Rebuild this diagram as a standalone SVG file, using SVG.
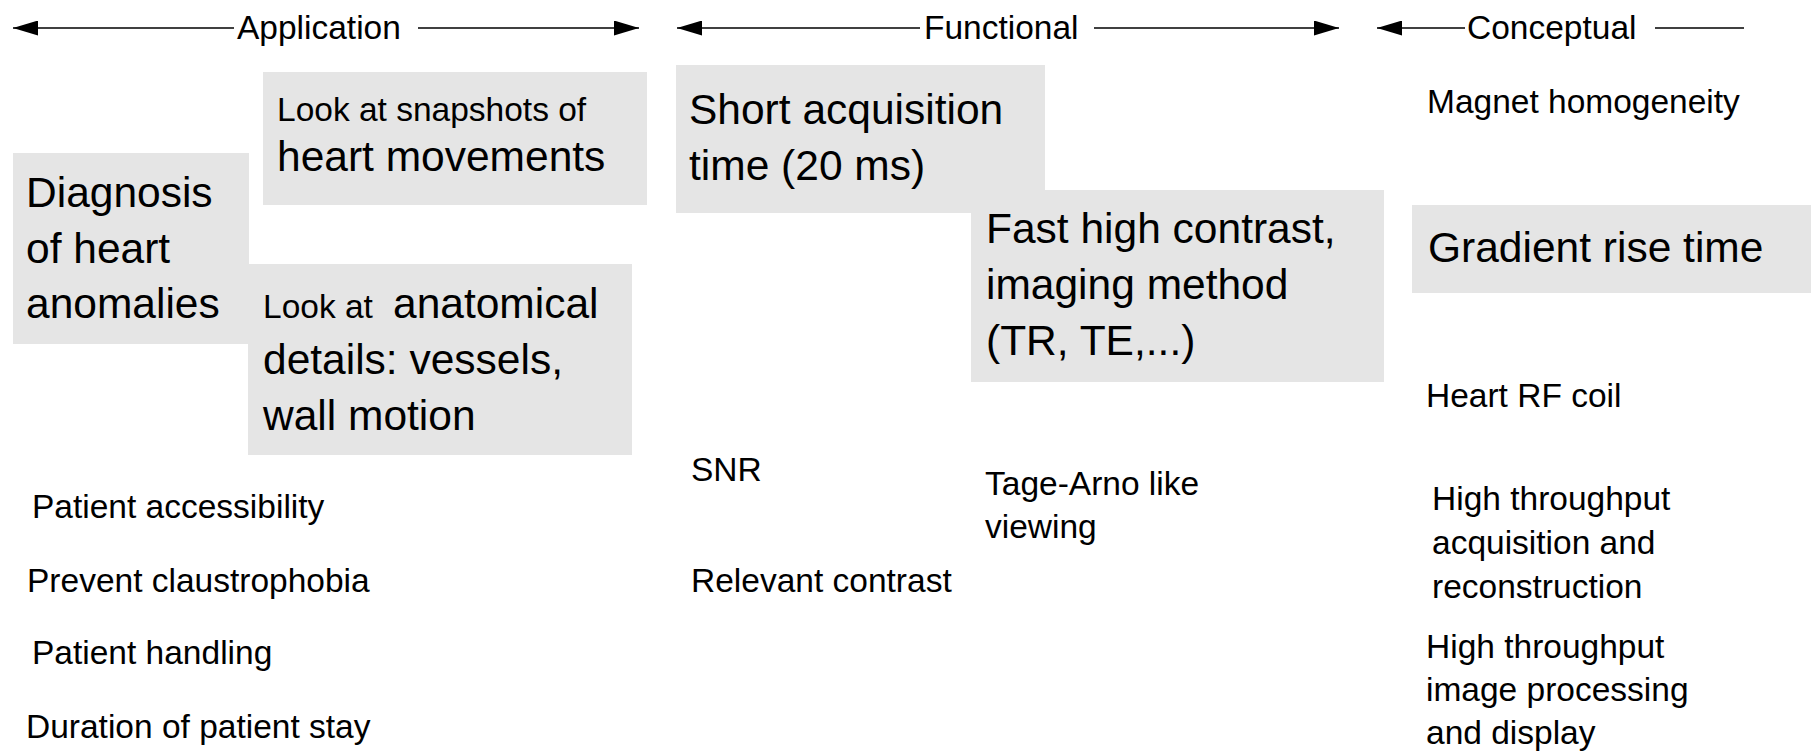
<svg xmlns="http://www.w3.org/2000/svg" width="1811" height="751" viewBox="0 0 1811 751">
  <style>
    text { font-family: "Liberation Sans", Arial, Helvetica, sans-serif; fill: #000; }
    .s { font-size: 33.5px; }
    .l { font-size: 42.5px; }
    .box { fill: #e5e5e5; stroke: none; }
    .axis { stroke: #000; stroke-width: 1.6; fill: none; }
  </style>
  <defs>
    <marker id="tip" markerUnits="userSpaceOnUse" markerWidth="25" markerHeight="15" refX="25" refY="7.5" orient="auto">
      <path d="M0,0 L25,7.5 L0,15 z" fill="#000"/>
    </marker>
  </defs>

  <!-- axis arrows along the top -->
  <g id="connectors">
    <line class="axis" x1="234" y1="28" x2="13" y2="28" marker-end="url(#tip)"/>
    <line class="axis" x1="418" y1="28" x2="639" y2="28" marker-end="url(#tip)"/>
    <line class="axis" x1="920" y1="28" x2="677" y2="28" marker-end="url(#tip)"/>
    <line class="axis" x1="1094" y1="28" x2="1339" y2="28" marker-end="url(#tip)"/>
    <line class="axis" x1="1465" y1="28" x2="1377" y2="28" marker-end="url(#tip)"/>
    <line class="axis" x1="1655" y1="28" x2="1744" y2="28"/>
  </g>

  <g id="heading-application"><text class="s" x="237" y="38.5">Application</text></g>
  <g id="heading-functional"><text class="s" x="924" y="38.5">Functional</text></g>
  <g id="heading-conceptual"><text class="s" x="1467" y="38.5">Conceptual</text></g>

  <!-- Application column -->
  <g id="diagnosis">
    <rect class="box" x="13" y="153" width="236" height="191"/>
    <text class="l" x="26" y="207">Diagnosis</text>
    <text class="l" x="26" y="263">of heart</text>
    <text class="l" x="26" y="318">anomalies</text>
  </g>
  <g id="snapshots">
    <rect class="box" x="263" y="72" width="384" height="133"/>
    <text class="s" x="277" y="121">Look at snapshots of</text>
    <text class="l" x="277" y="171">heart movements</text>
  </g>
  <g id="anatomical">
    <rect class="box" x="248" y="264" width="384" height="191"/>
    <text x="263" y="318"><tspan class="s">Look at</tspan><tspan class="l" x="393">anatomical</tspan></text>
    <text class="l" x="263" y="374">details: vessels,</text>
    <text class="l" x="263" y="430">wall motion</text>
  </g>
  <g id="patient-accessibility"><text class="s" x="32" y="518">Patient accessibility</text></g>
  <g id="claustrophobia"><text class="s" x="27" y="592">Prevent claustrophobia</text></g>
  <g id="patient-handling"><text class="s" x="32" y="664">Patient handling</text></g>
  <g id="patient-stay"><text class="s" x="26" y="738">Duration of patient stay</text></g>

  <!-- Functional column -->
  <g id="acquisition-time">
    <rect class="box" x="676" y="65" width="369" height="148"/>
    <text class="l" x="689" y="124">Short acquisition</text>
    <text class="l" x="689" y="180">time (20 ms)</text>
  </g>
  <g id="imaging-method">
    <rect class="box" x="971" y="190" width="413" height="192"/>
    <text class="l" x="986" y="243">Fast high contrast,</text>
    <text class="l" x="986" y="299">imaging method</text>
    <text class="l" x="986" y="355">(TR, TE,...)</text>
  </g>
  <g id="snr"><text class="s" x="691" y="481">SNR</text></g>
  <g id="relevant-contrast"><text class="s" x="691" y="592">Relevant contrast</text></g>
  <g id="viewing">
    <text class="s" x="985" y="495">Tage-Arno like</text>
    <text class="s" x="985" y="538">viewing</text>
  </g>

  <!-- Conceptual column -->
  <g id="magnet"><text class="s" x="1427" y="113">Magnet homogeneity</text></g>
  <g id="gradient">
    <rect class="box" x="1412" y="205" width="399" height="88"/>
    <text class="l" x="1428" y="262">Gradient rise time</text>
  </g>
  <g id="rf-coil"><text class="s" x="1426" y="407">Heart RF coil</text></g>
  <g id="acquisition-throughput">
    <text class="s" x="1432" y="510">High throughput</text>
    <text class="s" x="1432" y="554">acquisition and</text>
    <text class="s" x="1432" y="598">reconstruction</text>
  </g>
  <g id="processing-throughput">
    <text class="s" x="1426" y="658">High throughput</text>
    <text class="s" x="1426" y="701">image processing</text>
    <text class="s" x="1426" y="744">and display</text>
  </g>
</svg>
